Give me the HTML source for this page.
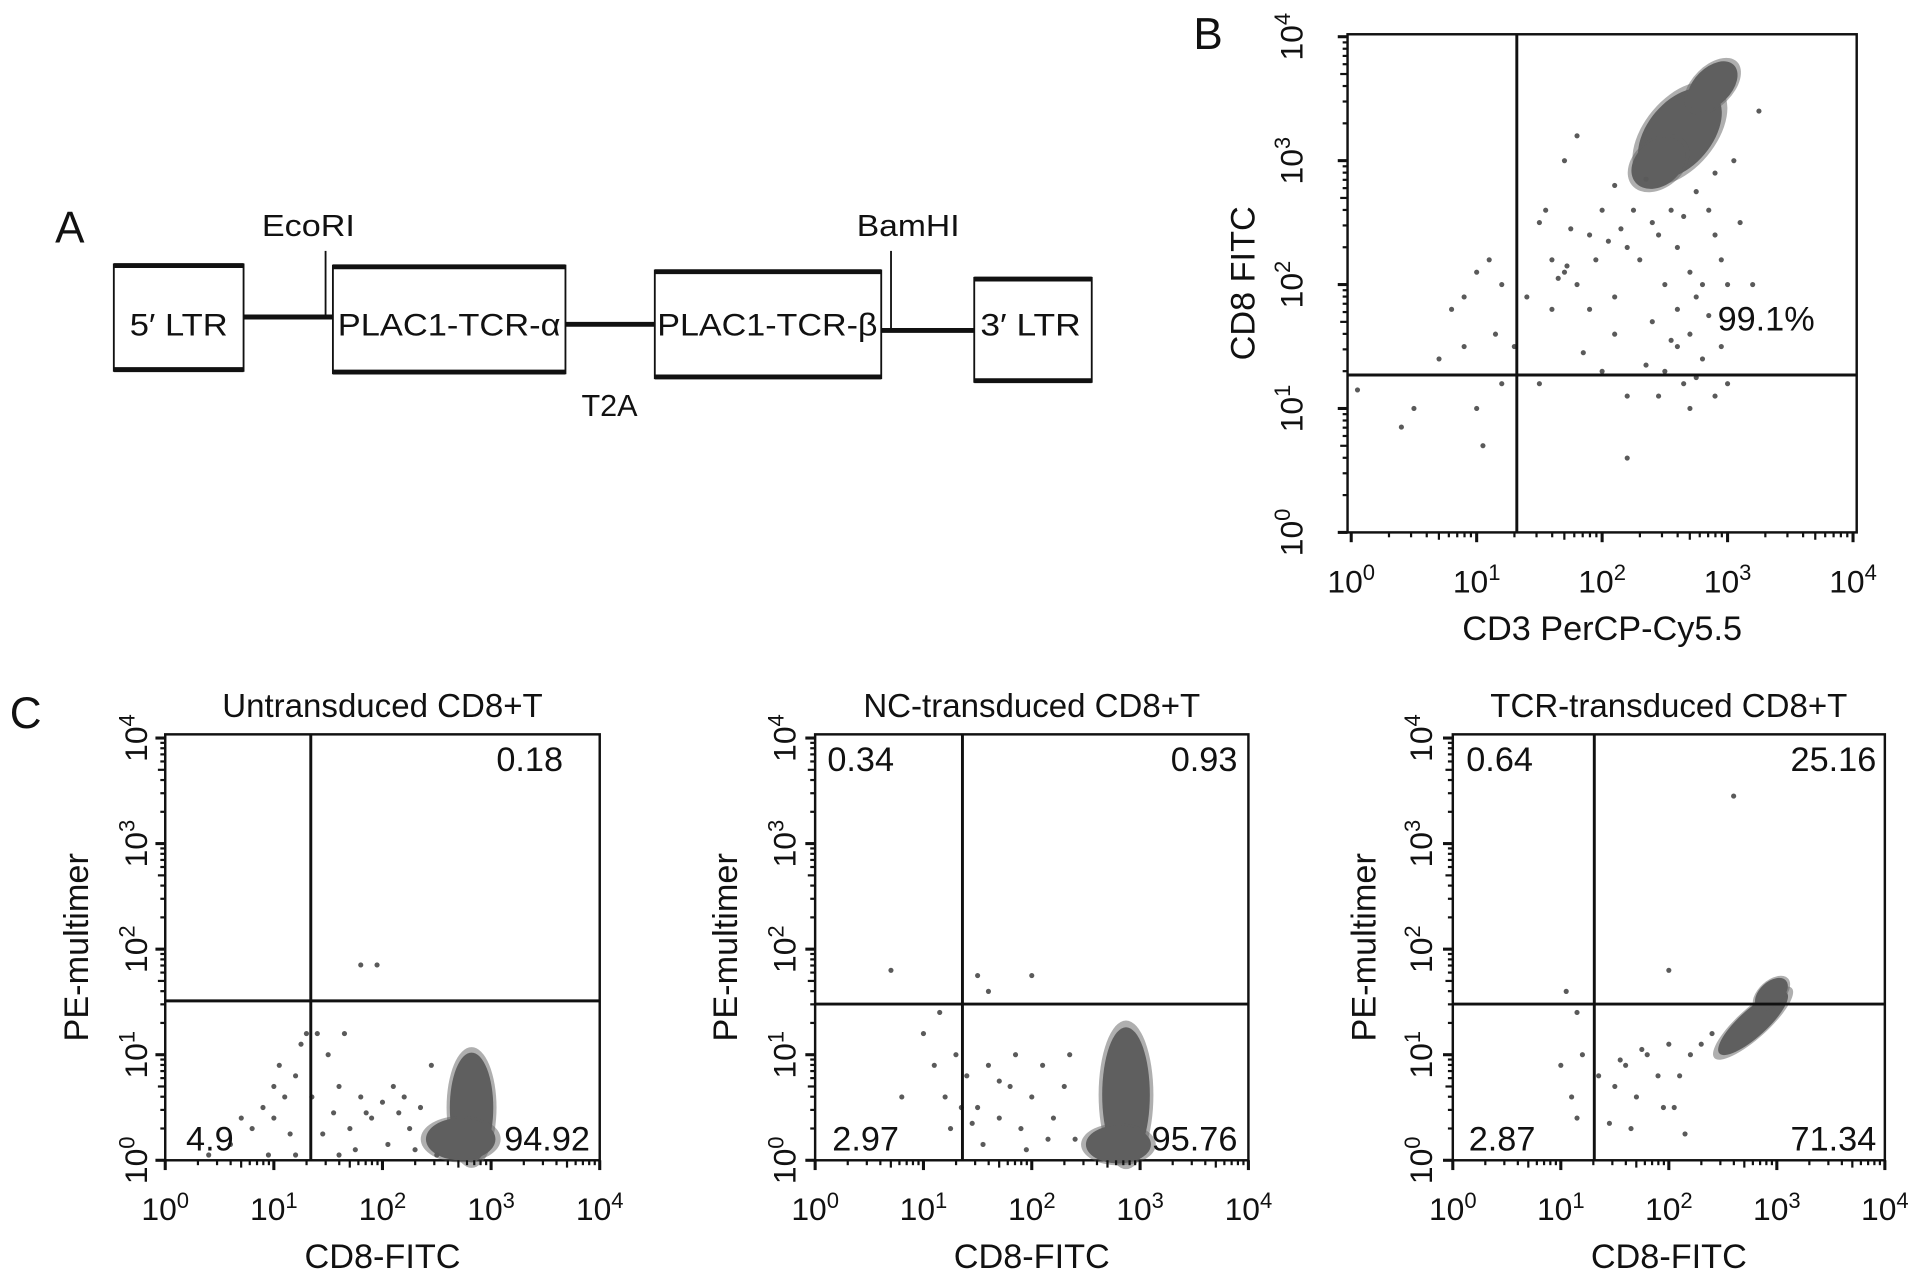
<!DOCTYPE html>
<html><head><meta charset="utf-8">
<style>
html,body{margin:0;padding:0;background:#fff;}
svg{display:block;}
text{font-family:"Liberation Sans",Arial,sans-serif;fill:#111;}
</style></head>
<body>
<svg id="fig" width="1913" height="1279" viewBox="0 0 1563 1045" preserveAspectRatio="none" xmlns="http://www.w3.org/2000/svg">
<g id="panelA">
  <text x="45" y="198" font-size="36">A</text>
  <text x="252" y="193" font-size="25" text-anchor="middle" textLength="76" lengthAdjust="spacingAndGlyphs">EcoRI</text>
  <text x="742" y="193" font-size="25" text-anchor="middle" textLength="84" lengthAdjust="spacingAndGlyphs">BamHI</text>
  <text x="498" y="340" font-size="25" text-anchor="middle">T2A</text>
  <line x1="266" y1="205" x2="266" y2="258" stroke="#111" stroke-width="1.5"/>
  <line x1="728" y1="205" x2="728" y2="270" stroke="#111" stroke-width="1.5"/>
  <line x1="199" y1="259" x2="272" y2="259" stroke="#111" stroke-width="4"/>
  <line x1="462" y1="265" x2="535" y2="265" stroke="#111" stroke-width="4"/>
  <line x1="720" y1="270" x2="796" y2="270" stroke="#111" stroke-width="4"/>
  <g>
    <rect x="93" y="216" width="106" height="87" fill="#fff" stroke="#111" stroke-width="1.5"/>
    <line x1="93" y1="217" x2="199" y2="217" stroke="#111" stroke-width="4"/><line x1="93" y1="302" x2="199" y2="302" stroke="#111" stroke-width="4"/>
    <text x="146" y="274" font-size="26" text-anchor="middle" textLength="80" lengthAdjust="spacingAndGlyphs">5′ LTR</text></g>
  <g>
    <rect x="272" y="217" width="190" height="88" fill="#fff" stroke="#111" stroke-width="1.5"/>
    <line x1="272" y1="218" x2="462" y2="218" stroke="#111" stroke-width="4"/><line x1="272" y1="304" x2="462" y2="304" stroke="#111" stroke-width="4"/>
    <text x="367" y="274" font-size="26" text-anchor="middle" textLength="182" lengthAdjust="spacingAndGlyphs">PLAC1-TCR-α</text></g>
  <g>
    <rect x="535" y="221" width="185" height="88" fill="#fff" stroke="#111" stroke-width="1.5"/>
    <line x1="535" y1="222" x2="720" y2="222" stroke="#111" stroke-width="4"/><line x1="535" y1="308" x2="720" y2="308" stroke="#111" stroke-width="4"/>
    <text x="627" y="274" font-size="26" text-anchor="middle" textLength="180" lengthAdjust="spacingAndGlyphs">PLAC1-TCR-β</text></g>
  <g>
    <rect x="796" y="227" width="96" height="85" fill="#fff" stroke="#111" stroke-width="1.5"/>
    <line x1="796" y1="228" x2="892" y2="228" stroke="#111" stroke-width="4"/><line x1="796" y1="311" x2="892" y2="311" stroke="#111" stroke-width="4"/>
    <text x="842" y="274" font-size="26" text-anchor="middle" textLength="82" lengthAdjust="spacingAndGlyphs">3′ LTR</text></g>
</g>
<text x="975" y="40" font-size="36">B</text>
<text x="8" y="595" font-size="36">C</text>
</svg>
<script>
// ---- data (log10 units) ----
const bSparse=[[0.9,1.5],[1.0,1.0],[1.2,1.2],[1.5,1.2],[0.5,1.0],[0.4,0.85],[1.05,0.7],[0.8,1.8],[0.9,1.9],[1.0,2.1],[1.1,2.2],[1.2,2.0],[1.7,2.1],[1.8,2.0],[1.6,2.2],[1.9,2.4],[2.0,2.6],[2.1,2.8],[1.7,3.0],[1.8,3.2],[2.3,2.2],[2.5,2.0],[2.6,1.8],[2.7,1.6],[2.8,1.4],[2.5,1.3],[2.2,1.1],[2.7,1.0],[2.2,0.6],[2.0,1.3],[1.5,2.5],[1.4,1.9],[2.9,2.4],[3.1,2.5],[3.25,3.4],[2.95,1.5],[3.0,1.2],[2.4,2.5],[2.2,2.3],[2.6,2.3],[1.9,1.8],[2.8,2.0],[3.0,2.0],[2.4,1.7],[1.3,1.5],[0.7,1.4],[2.1,1.9],[1.55,2.6],[1.75,2.45],[2.35,2.85],[2.75,2.75],[2.9,2.9],[3.05,3.0],[2.55,1.55],[2.85,1.75],[2.65,1.2],[0.05,1.15],[1.15,1.6],[2.1,1.6],[1.85,1.45],[1.65,2.05],[1.72,2.15],[1.95,2.2],[2.05,2.35],[2.15,2.45],[2.25,2.6],[2.45,2.4],[2.55,2.6],[2.65,2.55],[2.85,2.6],[2.75,1.9],[2.6,1.5],[2.75,1.25],[2.9,1.1],[2.45,1.1],[2.35,1.35],[3.2,2.0],[2.95,2.2],[2.7,2.1],[1.6,1.8]];
const bDense=[[2.62,3.22,0.42,0.26,-50],[2.88,3.6,0.24,0.15,-45],[2.45,2.98,0.24,0.18,-40]];
const c1Sparse=[[1.8,1.85],[1.95,1.85],[0.8,0.3],[0.9,0.5],[1.0,0.4],[1.1,0.6],[1.2,0.8],[1.25,1.1],[1.3,1.2],[1.05,0.9],[0.6,0.15],[1.15,0.25],[1.4,1.2],[1.5,1.0],[1.6,0.7],[1.55,0.45],[1.7,0.3],[1.8,0.6],[1.9,0.4],[2.0,0.55],[2.1,0.7],[2.2,0.6],[2.25,0.3],[2.35,0.5],[1.65,1.2],[1.45,0.25],[1.75,0.1],[2.05,0.15],[2.3,0.1],[0.95,0.05],[0.4,0.05],[1.2,0.05],[1.6,0.05],[2.5,0.05],[2.45,0.9],[1.35,0.6],[0.7,0.4],[1.0,0.7],[1.85,0.45],[2.15,0.45]];
const c1Dense=[[2.82,0.5,0.2,0.52,0],[2.72,0.2,0.32,0.2,0]];
const c2Sparse=[[0.7,1.8],[1.5,1.75],[1.6,1.6],[2.0,1.75],[1.0,1.2],[1.1,0.9],[1.2,0.6],[1.15,1.4],[1.3,1.0],[1.25,0.3],[0.8,0.6],[1.4,0.8],[1.5,0.5],[1.6,0.9],[1.7,0.4],[1.8,0.7],[1.9,0.3],[2.0,0.6],[2.1,0.9],[2.2,0.4],[2.3,0.7],[2.4,0.2],[1.55,0.15],[1.95,0.1],[2.35,1.0],[1.35,0.5],[2.15,0.2],[1.85,1.0],[1.7,0.75],[1.45,0.35]];
const c2Dense=[[2.87,0.62,0.22,0.64,0],[2.8,0.15,0.3,0.18,0]];
const c3Sparse=[[2.6,3.45],[2.0,1.8],[1.05,1.6],[1.15,1.4],[1.2,1.0],[1.0,0.9],[1.1,0.6],[1.15,0.4],[1.35,0.8],[1.5,0.7],[1.6,0.9],[1.7,0.6],[1.8,1.0],[1.9,0.8],[2.0,1.1],[2.1,0.8],[2.2,1.0],[2.3,1.1],[1.45,0.35],[1.65,0.3],[1.95,0.5],[2.15,0.25],[1.75,1.05],[2.05,0.5],[2.4,1.2],[1.55,0.95]];
const c3Dense=[[2.78,1.3,0.42,0.13,-42],[2.95,1.58,0.18,0.11,-42]];
const xTickExp=[0,1,2,3,4];
const yTickExp=[0,1,2,3,4];
const panels=[
 {id:'b',x0:1104,x1:1514,y0:435,y1:30,box:[1101,28,1517,435],qx:1.32,qy:1.27,sparse:bSparse,dense:bDense,xl:'CD3 PerCP-Cy5.5',yl:'CD8 FITC',title:null,q:[['99.1%',1443,270,'middle']],xlY:523,ylX:1025,tlX:1064,tlY:484},
 {id:'c1',x0:135,x1:490,y0:948,y1:603,box:[135,600,490,948],qx:1.34,qy:1.51,sparse:c1Sparse,dense:c1Dense,xl:'CD8-FITC',yl:'PE-multimer',title:'Untransduced CD8+T',q:[['0.18',460,630,'end'],['4.9',152,940,'start'],['94.92',482,940,'end']],xlY:1036,ylX:72,tlX:120,tlY:997},
 {id:'c2',x0:666,x1:1020,y0:948,y1:603,box:[666,600,1020,948],qx:1.36,qy:1.48,sparse:c2Sparse,dense:c2Dense,xl:'CD8-FITC',yl:'PE-multimer',title:'NC-transduced CD8+T',q:[['0.34',676,630,'start'],['0.93',1011,630,'end'],['2.97',680,940,'start'],['95.76',1011,940,'end']],xlY:1036,ylX:602,tlX:650,tlY:997},
 {id:'c3',x0:1187,x1:1540,y0:948,y1:603,box:[1187,600,1540,948],qx:1.31,qy:1.48,sparse:c3Sparse,dense:c3Dense,xl:'CD8-FITC',yl:'PE-multimer',title:'TCR-transduced CD8+T',q:[['0.64',1198,630,'start'],['25.16',1533,630,'end'],['2.87',1200,940,'start'],['71.34',1533,940,'end']],xlY:1036,ylX:1124,tlX:1170,tlY:997}
];
const NS='http://www.w3.org/2000/svg';
const svg=document.getElementById('fig');
function mk(t,a,p){const e=document.createElementNS(NS,t);for(const k in a)e.setAttribute(k,a[k]);(p||svg).appendChild(e);return e;}
panels.forEach(P=>{
 const sx=v=>P.x0+(P.x1-P.x0)*v/4, sy=v=>P.y0+(P.y1-P.y0)*v/4;
 const g=mk('g',{});
 
 
 const [bx0,by0,bx1,by1]=P.box;
 const fr=mk('rect',{x:bx0,y:by0,width:bx1-bx0,height:by1-by0,fill:'#fff',stroke:'#111','stroke-width':2},g);
 
 
 P.dense.forEach(d=>{
  const cx=sx(d[0]),cy=sy(d[1]),rx=(P.x1-P.x0)/4*d[2],ry=(P.y0-P.y1)/4*d[3];
  const h=mk('ellipse',{cx:cx,cy:cy,rx:rx*1.15,ry:ry*1.1,fill:'#5f5f5f','fill-opacity':0.5,transform:`rotate(${d[4]} ${cx} ${cy})`},g);
  
  
  const e=mk('ellipse',{cx:cx,cy:cy,rx:rx,ry:ry,fill:'#5f5f5f',transform:`rotate(${d[4]} ${cx} ${cy})`},g);
  
  
 });
 P.sparse.forEach(p=>{
  const c=mk('circle',{cx:sx(p[0]),cy:sy(p[1]),r:2.1,fill:'#5a5a5a'},g);
  
  
 });
 const vq=mk('line',{x1:sx(P.qx),x2:sx(P.qx),y1:by0,y2:by1,stroke:'#111','stroke-width':2.4},g);
 
 
 const hq=mk('line',{x1:bx0,x2:bx1,y1:sy(P.qy),y2:sy(P.qy),stroke:'#111','stroke-width':2.4},g);
 
 
 for(let d=0;d<4;d++){for(let m=1;m<10;m++){const v=d+Math.log10(m);
   const L=m==1?8:(m==5?6:4);
   mk('line',{x1:sx(v),x2:sx(v),y1:by1,y2:by1+L,stroke:'#111','stroke-width':m==1?2.5:1.8},g);
   mk('line',{x1:bx0-L,x2:bx0,y1:sy(v),y2:sy(v),stroke:'#111','stroke-width':m==1?2.5:1.8},g);}}
 mk('line',{x1:sx(4),x2:sx(4),y1:by1,y2:by1+8,stroke:'#111','stroke-width':2.5},g);
 mk('line',{x1:bx0-8,x2:bx0,y1:sy(4),y2:sy(4),stroke:'#111','stroke-width':2.5},g);
 xTickExp.forEach(e=>{
  const t=mk('text',{x:sx(e),y:P.tlY,'font-size':26,'text-anchor':'middle'},g);
  t.innerHTML='10<tspan dy="-10" font-size="18">'+e+'</tspan>';
  
  
 });
 yTickExp.forEach(e=>{
  const t=mk('text',{x:0,y:0,'font-size':26,'text-anchor':'middle',transform:`translate(${P.tlX} ${sy(e)}) rotate(-90)`},g);
  t.innerHTML='10<tspan dy="-10" font-size="18">'+e+'</tspan>';
  
  
 });
 const xl=mk('text',{x:(bx0+bx1)/2,y:P.xlY,'font-size':28,'text-anchor':'middle'},g);xl.textContent=P.xl;
 
 
 const yl=mk('text',{x:0,y:0,'font-size':28,'text-anchor':'middle',transform:`translate(${P.ylX} ${(by0+by1)/2}) rotate(-90)`},g);yl.textContent=P.yl;
 
 
 if(P.title){const t=mk('text',{x:(bx0+bx1)/2,y:586,'font-size':27,'text-anchor':'middle'},g);t.textContent=P.title;
  
  }
 P.q.forEach(q=>{const t=mk('text',{x:q[1],y:q[2],'font-size':28,'text-anchor':q[3]},g);t.textContent=q[0];
  
  });
});
</script>
</body></html>
